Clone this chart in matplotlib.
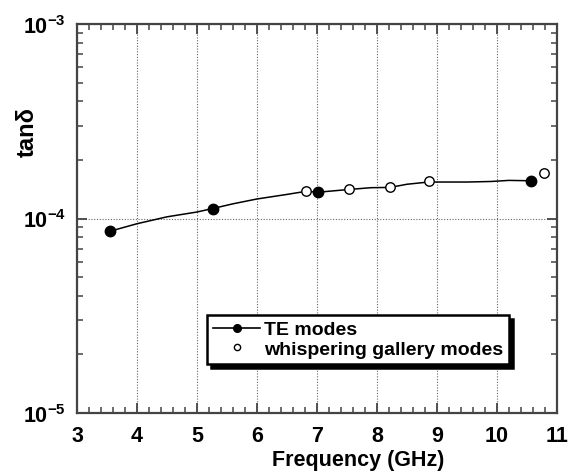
import matplotlib
matplotlib.use("Agg")
import matplotlib.pyplot as plt
from matplotlib.lines import Line2D
from matplotlib.ticker import FixedLocator, LogLocator, NullFormatter, MultipleLocator

plt.rcParams["font.family"] = ["Liberation Sans", "DejaVu Sans"]
plt.rcParams["font.weight"] = "bold"
plt.rcParams["mathtext.fontset"] = "custom"
plt.rcParams["mathtext.rm"] = "Liberation Sans:bold"
plt.rcParams["mathtext.bf"] = "Liberation Sans:bold"

# TE-mode measurements (filled circles)
te_freq = [3.55, 5.26, 7.02, 10.57]
te_tand = [8.6e-5, 1.125e-4, 1.365e-4, 1.563e-4]

# whispering-gallery-mode measurements (open circles)
wg_freq = [6.82, 7.53, 8.22, 8.86, 10.79]
wg_tand = [1.387e-4, 1.416e-4, 1.445e-4, 1.55e-4, 1.71e-4]

# trend curve through the data
curve_freq = [3.55, 4.0, 4.5, 5.0, 5.26, 5.6, 6.0, 6.5, 6.82, 7.02, 7.53,
              7.9, 8.22, 8.5, 8.86, 9.5, 9.9, 10.2, 10.57]
curve_tand = [8.6e-5, 9.4e-5, 1.02e-4, 1.08e-4, 1.125e-4, 1.19e-4, 1.26e-4,
              1.33e-4, 1.38e-4, 1.365e-4, 1.41e-4, 1.44e-4, 1.445e-4,
              1.5e-4, 1.54e-4, 1.54e-4, 1.55e-4, 1.57e-4, 1.563e-4]

x_ticks = [3, 4, 5, 6, 7, 8, 9, 10, 11]
y_ticks = [1e-5, 1e-4, 1e-3]
y_ticklabels = [r"$10^{-5}$", r"$10^{-4}$", r"$10^{-3}$"]

fig = plt.figure(figsize=(5.75, 4.77), dpi=100)
ax = fig.add_axes([77 / 575, 1 - 414 / 477, 480 / 575, 389 / 477])

ax.set_yscale("log")
ax.set_xlim(3, 11)
ax.set_ylim(1e-5, 1e-3)

ax.plot(curve_freq, curve_tand, color="black", lw=1.1, zorder=3)
ax.plot(te_freq, te_tand, "o", color="black", ms=7.5, zorder=4)
ax.plot(wg_freq, wg_tand, "o", mfc="white", mec="black", mew=1.0, ms=6.8,
        zorder=5)

ax.xaxis.set_major_locator(FixedLocator(x_ticks))
ax.xaxis.set_minor_locator(MultipleLocator(0.2))
ax.set_xticklabels([str(v) for v in x_ticks])
ax.yaxis.set_major_locator(FixedLocator(y_ticks))
ax.set_yticklabels(y_ticklabels)
ax.yaxis.set_minor_locator(LogLocator(base=10, subs=range(2, 10)))
ax.yaxis.set_minor_formatter(NullFormatter())

spine_col = "#444444"
for s in ax.spines.values():
    s.set_color(spine_col)
    s.set_linewidth(1.6)

ax.tick_params(which="both", direction="in", top=True, right=True,
               color=spine_col)
ax.tick_params(which="major", length=7, width=1.3, labelsize=15.5, pad=9)
ax.tick_params(which="minor", length=4, width=1.1)
ax.tick_params(axis="y", which="major", pad=8)

ax.grid(True, which="major", ls=(0, (1, 1.5)), color="#666666", lw=0.8)

fig.text(358 / 575, 1 - 461 / 477, "Frequency (GHz)", ha="center",
         va="center", fontsize=15.5, fontweight="bold")
fig.text(27 / 575, 1 - 132 / 477, "tan\u03b4", ha="center", va="center",
         rotation=90, fontsize=17, fontweight="bold")

handles = [
    Line2D([], [], color="black", lw=1.2, marker="o", ms=5.5,
           mfc="black", mec="black"),
    Line2D([], [], ls="none", marker="o", ms=4.5, mfc="white", mec="black",
           mew=1.0),
]
leg = ax.legend(handles, ["TE modes", "whispering gallery modes"],
                loc="upper left", bbox_to_anchor=(130 / 480, 98 / 389),
                borderaxespad=0, fontsize=14, frameon=True, fancybox=False,
                handlelength=2.45, handletextpad=0.2, labelspacing=0.1,
                borderpad=0.3,
                shadow={"ox": 3, "oy": -3, "color": "black", "alpha": 1})
leg.get_frame().set_edgecolor("black")
leg.get_frame().set_linewidth(1.8)
leg.get_frame().set_facecolor("white")
leg.get_frame().set_alpha(1)

fig.savefig("out.png", dpi=100)
